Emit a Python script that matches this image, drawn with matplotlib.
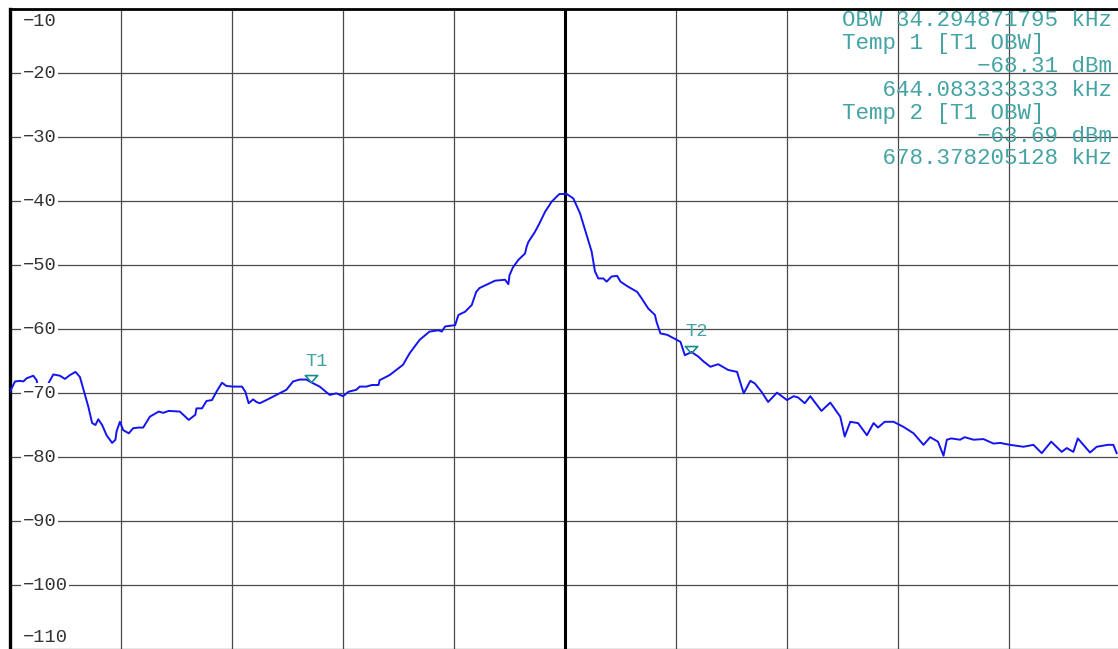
import matplotlib
matplotlib.use("Agg")
import matplotlib.pyplot as plt

# trace (kHz, dBm)
freq_khz = [
    617.0, 617.45, 617.9, 618.2, 618.5, 619.1, 619.4, 619.7, 620.0, 620.3,
    620.9, 621.5, 621.95, 622.4, 622.9, 623.3, 623.8, 624.05, 624.4, 624.7,
    624.95, 625.3, 625.7, 626.2, 626.5, 626.6, 626.9, 627.2, 627.7, 628.1,
    628.6, 629.0, 629.6, 630.4, 630.8, 631.3, 632.3, 633.1, 633.7, 633.8,
    634.3, 634.7, 635.2, 635.6, 636.1, 636.5, 637.1, 637.9, 638.2, 638.5,
    638.9, 639.2, 639.5, 640.1, 641.0, 641.9, 642.5, 643.1, 643.7, 644.1,
    644.9, 645.8, 646.4, 647.0, 647.5, 648.2, 648.5, 649.1, 649.6, 650.2,
    650.3, 651.2, 652.4, 653.0, 653.9, 654.8, 655.6, 655.9, 656.2, 657.1,
    657.4, 658.0, 658.6, 659.0, 659.3, 659.9, 660.7, 661.6, 661.9, 662.0,
    662.3, 662.8, 663.4, 663.55, 663.7, 664.3, 664.7, 665.2, 665.8, 666.5,
    667.15, 667.75, 668.35, 669.0, 669.4, 669.7, 670.0, 670.45, 670.75, 671.2,
    671.7, 672.0, 672.6, 673.5, 673.9, 674.5, 675.1, 675.25, 675.6, 676.2,
    676.8, 677.4, 677.8, 678.4, 679.0, 679.5, 680.1, 680.8, 681.7, 682.5,
    683.1, 683.7, 684.1, 684.7, 685.3, 686.1, 687.0, 687.6, 688.0, 688.6,
    689.1, 690.1, 690.9, 691.8, 692.2, 692.7, 693.4, 694.2, 694.8, 695.2,
    695.8, 696.6, 697.5, 698.4, 699.3, 699.9, 700.6, 701.1, 701.4, 701.8,
    702.6, 703.0, 703.8, 704.7, 705.6, 706.2, 707.1, 708.3, 709.2, 709.95,
    710.8, 711.75, 712.2, 712.8, 713.2, 714.3, 714.9, 715.9, 716.4, 716.7,
]
level_dbm = [
    -69.8, -68.2, -68.1, -68.2, -67.7, -67.3, -68.0, -70.8, -71.2, -69.0,
    -67.1, -67.3, -67.8, -67.2, -66.7, -67.5, -70.6, -72.1, -74.7, -75.0,
    -74.1, -75.0, -76.6, -77.8, -77.3, -76.0, -74.5, -75.8, -76.3, -75.5,
    -75.4, -75.4, -73.7, -72.9, -73.1, -72.8, -72.9, -74.2, -73.4, -72.4,
    -72.4, -71.25, -71.1, -69.8, -68.4, -68.9, -69.0, -69.0, -69.8, -71.6,
    -71.0, -71.4, -71.6, -71.1, -70.3, -69.5, -68.2, -67.9, -67.9, -68.3,
    -69.0, -70.3, -70.05, -70.5, -69.8, -69.5, -69.0, -69.0, -68.75, -68.75,
    -68.0, -67.2, -65.6, -63.8, -61.7, -60.4, -60.2, -60.4, -59.6, -59.4,
    -57.8, -57.3, -56.25, -54.2, -53.6, -53.1, -52.45, -52.3, -53.0, -51.6,
    -50.4, -49.2, -48.2, -47.1, -46.4, -44.8, -43.5, -41.7, -40.1, -38.9,
    -38.9, -39.6, -41.9, -45.6, -47.9, -51.0, -52.1, -52.1, -52.6, -51.8,
    -51.7, -52.6, -53.3, -54.2, -55.2, -56.8, -57.8, -58.9, -60.7, -60.9,
    -61.45, -62.0, -64.1, -63.6, -64.3, -65.1, -65.9, -65.5, -66.4, -66.7,
    -70.05, -68.1, -68.5, -69.8, -71.4, -69.95, -71.1, -70.5, -70.7, -71.6,
    -70.5, -72.8, -71.5, -73.7, -76.8, -74.5, -74.7, -76.6, -74.7, -75.4,
    -74.5, -74.5, -75.3, -76.3, -78.1, -76.9, -77.6, -79.8, -77.3, -77.1,
    -77.3, -76.9, -77.3, -77.2, -77.9, -77.8, -78.1, -78.4, -78.1, -79.4,
    -77.6, -79.2, -78.6, -79.2, -77.1, -79.3, -78.4, -78.1, -78.1, -79.4,
]

# markers
marker_names = ["T1", "T2"]
marker_freq = [644.083333333, 678.378205128]
marker_level = [-68.31, -63.69]

info_lines = [
    ("OBW 34.294871795 kHz", "r"),
    ("Temp 1 [T1 OBW]", "l"),
    ("\u221268.31 dBm", "r"),
    ("644.083333333 kHz", "r"),
    ("Temp 2 [T1 OBW]", "l"),
    ("\u221263.69 dBm", "r"),
    ("678.378205128 kHz", "r"),
]

y_levels = list(range(-10, -111, -10))
center_khz = 667.0
span_khz = 100.0

W, H = 1118, 649
fig = plt.figure(figsize=(W / 100, H / 100), dpi=100)
ax = fig.add_axes([10 / W, 0, 1110 / W, 640 / H])

mono = ["Liberation Mono", "DejaVu Sans Mono"]
teal = "#45a3a3"

ax.set_xlim(center_khz - span_khz / 2, center_khz + span_khz / 2)
ax.set_ylim(-110, -10)
ax.set_xticks([center_khz - span_khz / 2 + 10 * i for i in range(11)])
ax.set_yticks(y_levels)
ax.tick_params(length=0, labelbottom=False, labelleft=False)
ax.grid(True, color="#4a4a4a", linewidth=0.9)
ax.axvline(center_khz, color="black", linewidth=2.2)

for side in ["right", "bottom"]:
    ax.spines[side].set_visible(False)
ax.spines["left"].set_linewidth(2.4)
ax.spines["top"].set_linewidth(2.0)

ax.plot(freq_khz, level_dbm, color="#1414f0", linewidth=1.4, zorder=3)

# level labels on the left
ytr = ax.get_yaxis_transform()
for lv in y_levels:
    ypos = lv
    if lv == -10:
        ypos = -12.0
    elif lv == -110:
        ypos = -108.2
    ax.text(0.0115, ypos, str(lv).replace("-", "\u2212"), transform=ytr,
            family=mono, fontsize=13.5, color="#333333", va="center", ha="left",
            bbox=dict(facecolor="white", edgecolor="none", pad=1.0), zorder=4)

# marker triangles and names
tri = [(0, 0), (-0.8, 0.9), (0.8, 0.9), (0, 0)]
for name, f, lv in zip(marker_names, marker_freq, marker_level):
    ax.plot([f], [lv], marker=tri, markersize=10, markerfacecolor="none",
            markeredgecolor="#1a8a8a", markeredgewidth=1.2, zorder=5)
    ax.annotate(name, (f, lv), xytext=(-4, 9), textcoords="offset points",
                family=mono, fontsize=13.5, color=teal, ha="left", va="bottom")

# readout block, top right, on a 20 column grid
x0 = (842 - 10) / 1110
for i, (txt, just) in enumerate(info_lines):
    line = txt.rjust(20) if just == "r" else txt.ljust(20)
    ypx = 21 + i * 23
    ax.text(x0, 1 - (ypx - 9) / 640, line, transform=ax.transAxes,
            family=mono, fontsize=16.2, color=teal, ha="left", va="center", zorder=6)

fig.savefig("out.png", dpi=100)
